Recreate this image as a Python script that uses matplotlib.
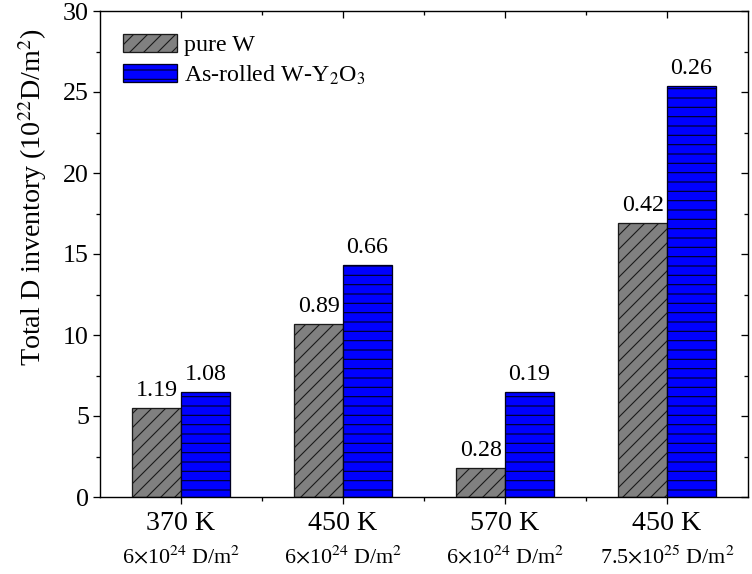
import matplotlib
matplotlib.use("Agg")
import matplotlib.pyplot as plt
import numpy as np

plt.rcParams['font.family'] = ['Liberation Serif', 'DejaVu Serif']
plt.rcParams['mathtext.fontset'] = 'stix'

temps = ["370 K", "450 K", "570 K", "450 K"]
fluences = [r"6$\times$10$^{24}$ D/m$^{2}$", r"6$\times$10$^{24}$ D/m$^{2}$",
            r"6$\times$10$^{24}$ D/m$^{2}$", r"7.5$\times$10$^{25}$ D/m$^{2}$"]
pure_w = [5.5, 10.7, 1.8, 16.9]
ods_w = [6.5, 14.3, 6.5, 25.4]
pure_lbl = ["1.19", "0.89", "0.28", "0.42"]
ods_lbl = ["1.08", "0.66", "0.19", "0.26"]

DPI = 168
PX = 72.0 / DPI  # points per pixel
plt.rcParams['hatch.linewidth'] = 1.1 * PX

fig = plt.figure(figsize=(752 / DPI, 574 / DPI), dpi=DPI)
ax = fig.add_axes([100 / 752, 1 - 497 / 574, 648 / 752, 486 / 574])

x = np.arange(1, len(temps) + 1)
w = 0.3
ax.bar(x - w / 2, pure_w, w, color='#808080', edgecolor='#1a1a1a',
       hatch='////', linewidth=1.3 * PX, label='pure W')
ax.bar(x + w / 2, ods_w, w, color='#0000FF', edgecolor='#000020',
       hatch='---', linewidth=1.3 * PX, label=r'As-rolled W-Y$_2$O$_3$')

for xi, v, s in zip(x - w / 2, pure_w, pure_lbl):
    ax.annotate(s, (xi, v), xytext=(0, 7 * PX), textcoords='offset points',
                ha='center', va='bottom', fontsize=24 * PX)
for xi, v, s in zip(x + w / 2, ods_w, ods_lbl):
    ax.annotate(s, (xi, v), xytext=(0, 7 * PX), textcoords='offset points',
                ha='center', va='bottom', fontsize=24 * PX)

ax.set_xlim(0.5, 4.5)
ax.set_ylim(0, 30)
ax.set_yticks(np.arange(0, 31, 5))
ax.set_yticks(np.arange(0, 30.1, 2.5), minor=True)
ax.set_xticks(x)
ax.set_xticklabels(temps, fontsize=28 * PX)
ax.set_xticks([1.5, 2.5, 3.5], minor=True)
ax.tick_params(axis='y', which='major', labelsize=26 * PX, direction='out',
               length=7 * PX, width=1.3 * PX, right=True, pad=4 * PX)
ax.tick_params(axis='y', which='minor', direction='out', length=4 * PX,
               width=1.3 * PX, right=True)
ax.tick_params(axis='x', which='major', direction='out', length=7 * PX,
               width=1.3 * PX, top=True, pad=7 * PX)
ax.tick_params(axis='x', which='minor', direction='out', length=4 * PX,
               width=1.3 * PX, top=True)
for t in ax.yaxis.get_major_ticks() + ax.yaxis.get_minor_ticks():
    t.tick2line.set_marker(matplotlib.lines.TICKLEFT)
for t in ax.xaxis.get_major_ticks() + ax.xaxis.get_minor_ticks():
    t.tick2line.set_marker(matplotlib.lines.TICKDOWN)

for sp in ax.spines.values():
    sp.set_linewidth(1.4 * PX)

for xi, f in zip(x, fluences):
    ax.text(xi, -0.10, f, transform=ax.get_xaxis_transform(), ha='center',
            va='top', fontsize=22 * PX)

ax.set_ylabel(r'Total D inventory (10$^{22}$D/m$^{2}$)', fontsize=28 * PX,
              labelpad=7 * PX)
ax.yaxis.set_label_coords(-0.078, 0.617)

ax.legend(loc='upper left', fontsize=24 * PX, frameon=False, handlelength=2.25,
          handleheight=0.8, borderaxespad=0.55, labelspacing=0.3,
          handletextpad=0.3)

fig.savefig('out.png', dpi=DPI)
